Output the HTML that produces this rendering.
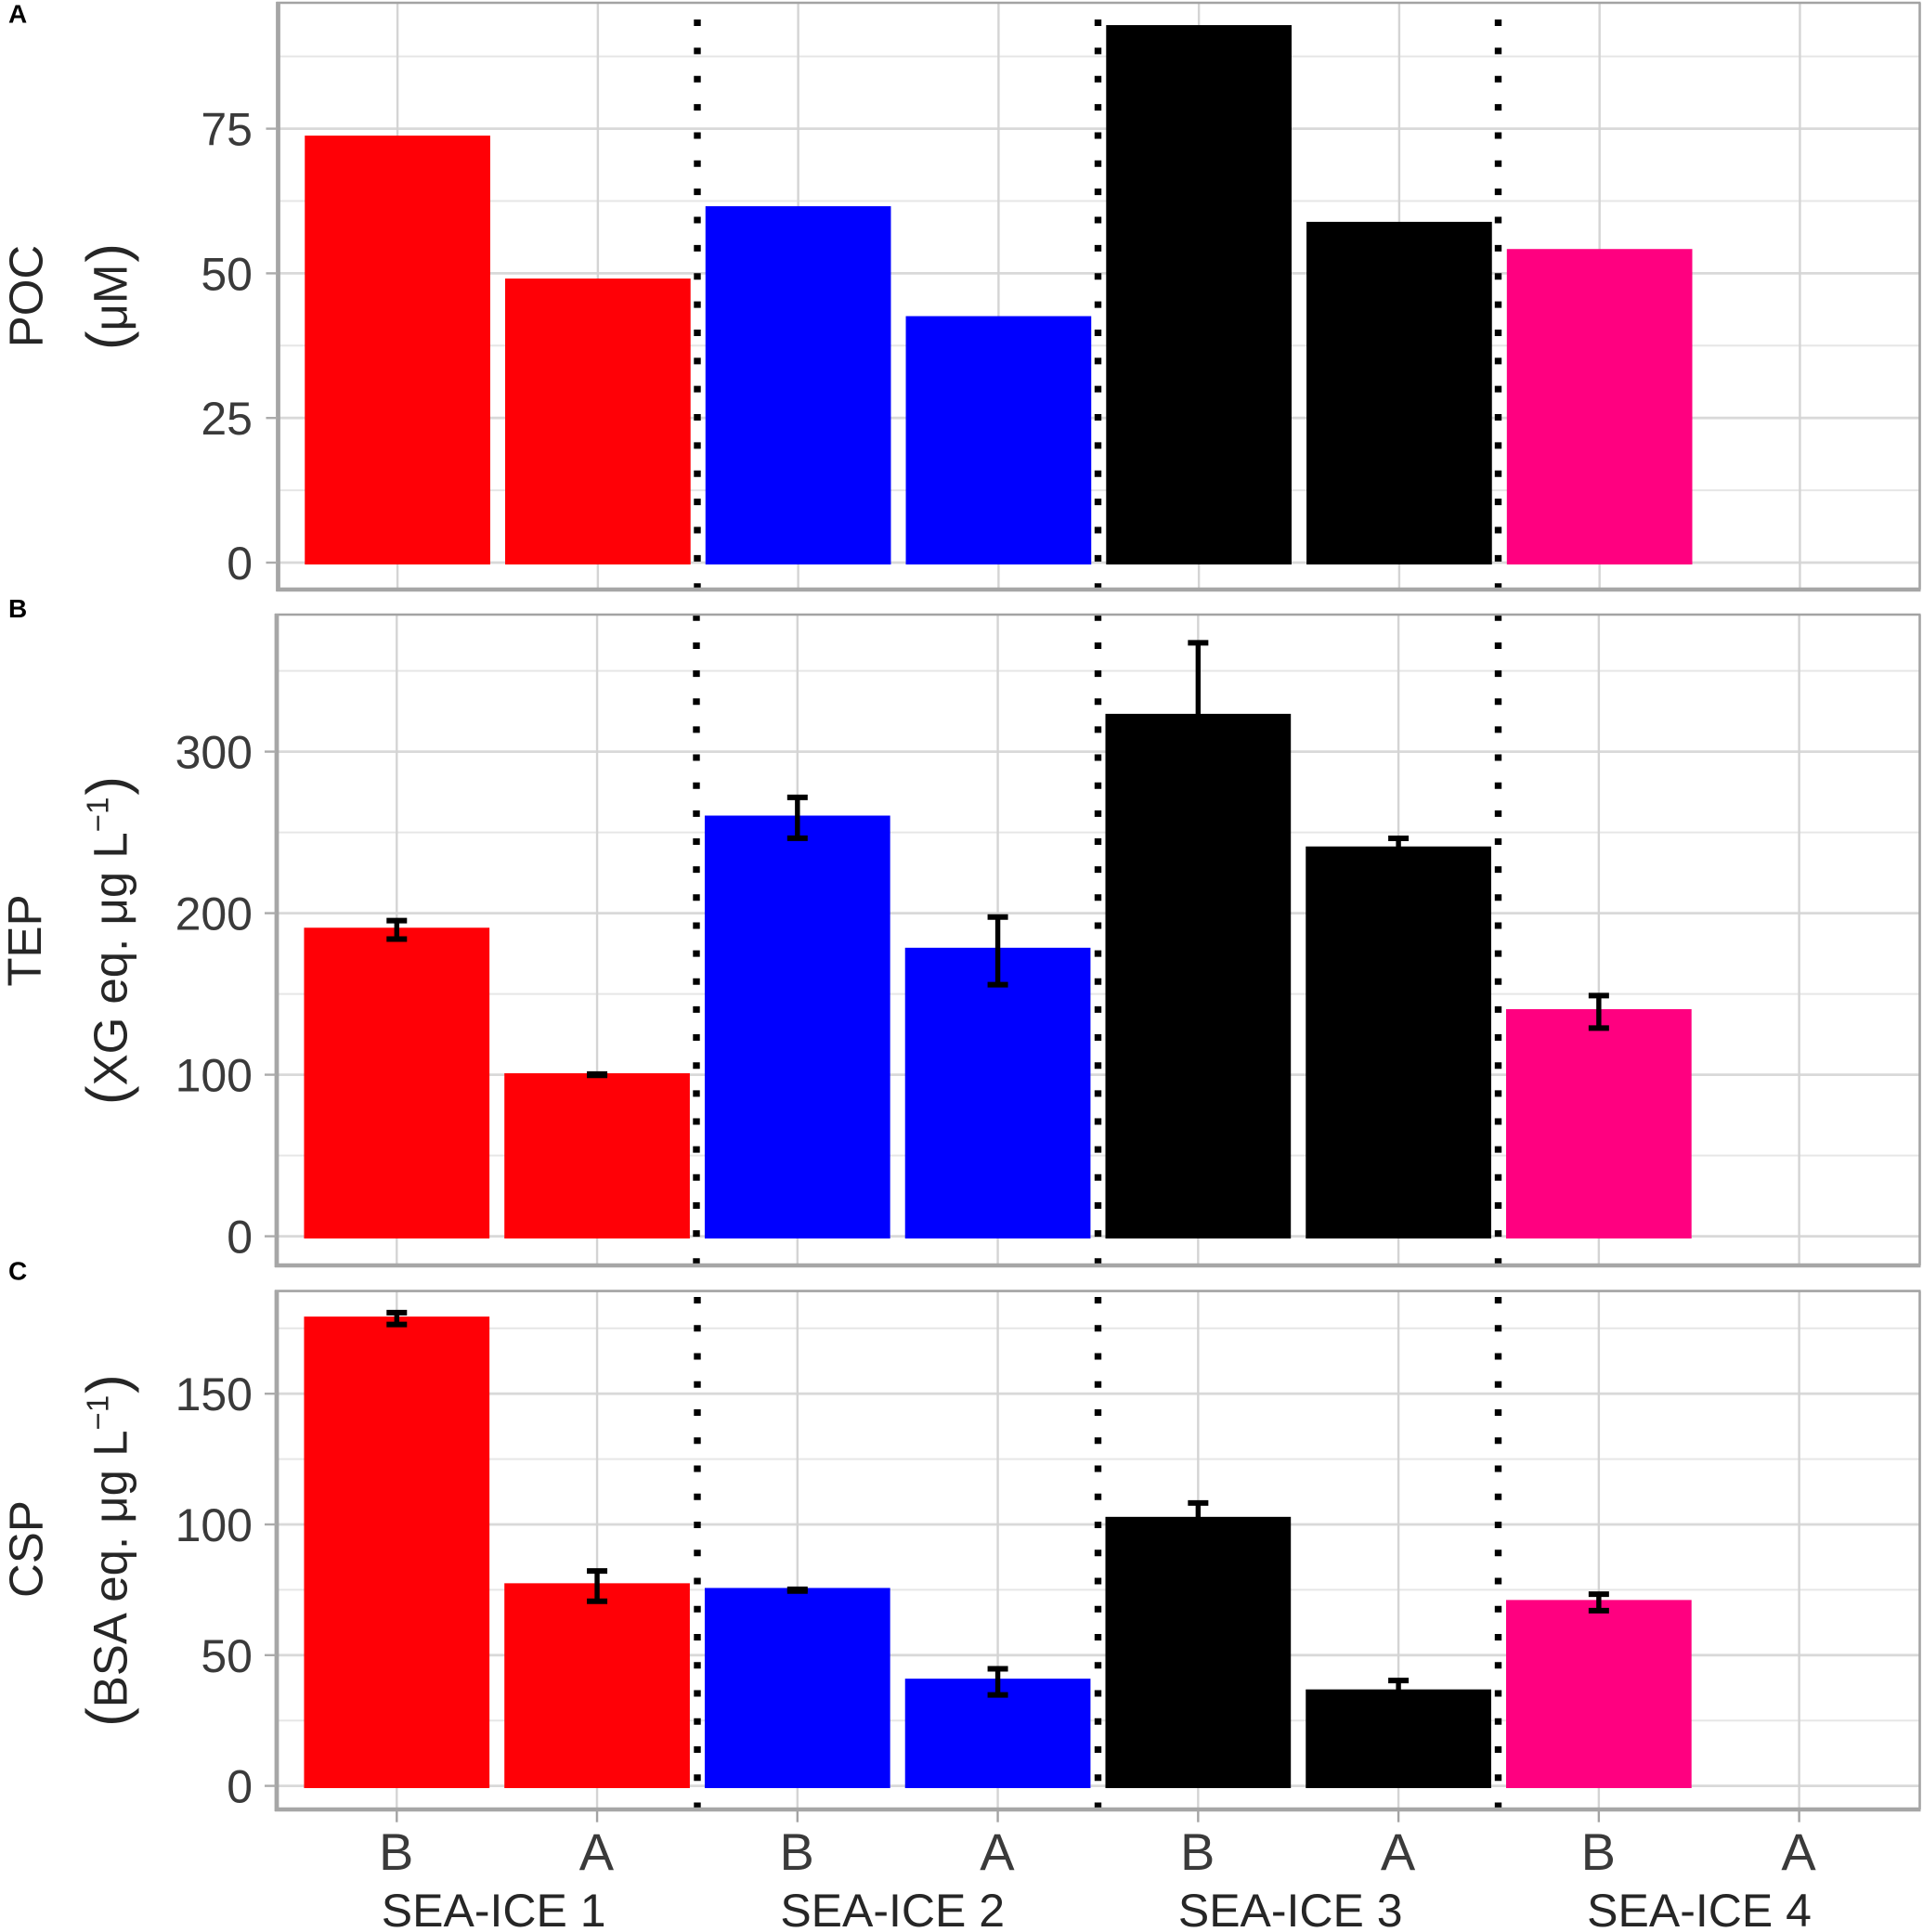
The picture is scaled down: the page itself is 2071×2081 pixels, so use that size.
<!DOCTYPE html>
<html lang="en">
<head>
<meta charset="utf-8">
<title>POC, TEP and CSP by sea-ice experiment</title>
<style>
html,body{margin:0;padding:0;background:#fff;width:2071px;height:2081px;overflow:hidden}
svg{display:block;font-family:"Liberation Sans","DejaVu Sans",sans-serif}
</style>
</head>
<body>
<svg id="chart" xmlns="http://www.w3.org/2000/svg" width="2071" height="2081" viewBox="0 0 2071 2081">
  <rect x="0" y="0" width="2071" height="2081" fill="#fff"/>
  <g id="panels"></g>

  <text x="9" y="24.5" font-size="28" font-weight="700" fill="#000">A</text>
  <text x="9" y="665" font-size="28" font-weight="700" fill="#000">B</text>
  <text x="9" y="1378.5" font-size="28" font-weight="700" fill="#000">C</text>

  <text transform="translate(45.5 319) rotate(-90)" text-anchor="middle" font-size="51" fill="#262626">POC</text>
  <text transform="translate(136.5 319.5) rotate(-90)" text-anchor="middle" font-size="51" fill="#262626"><tspan font-size="62">(</tspan>μM<tspan font-size="62" dx="2">)</tspan></text>

  <text transform="translate(44 1013) rotate(-90)" text-anchor="middle" font-size="51" fill="#262626">TEP</text>
  <text transform="translate(136.5 1013) rotate(-90)" text-anchor="middle" font-size="51" fill="#262626"><tspan font-size="62">(</tspan>XG eq. μg L<tspan font-size="33" dy="-20">−1</tspan><tspan font-size="62" dy="20" dx="2">)</tspan></text>

  <text transform="translate(45.5 1668.5) rotate(-90)" text-anchor="middle" font-size="51" fill="#262626">CSP</text>
  <text transform="translate(136.5 1670) rotate(-90)" text-anchor="middle" font-size="51" fill="#262626"><tspan font-size="62">(</tspan>BSA eq. μg L<tspan font-size="33" dy="-20">−1</tspan><tspan font-size="62" dy="20" dx="2">)</tspan></text>
</svg>

<script>
// ---- chart data ----
const categories = ['B', 'A', 'B', 'A', 'B', 'A', 'B', 'A'];
const groups = ['SEA-ICE 1', 'SEA-ICE 2', 'SEA-ICE 3', 'SEA-ICE 4'];

const pocValues = [73.8, 49.1, 61.6, 42.6, 92.9, 58.9, 54.2, null];
const pocTicks = [0, 25, 50, 75];
const pocMinorTicks = [12.5, 37.5, 62.5, 87.5];

const tepValues = [191, 100.9, 260.4, 178.6, 323.4, 241.3, 140.6, null];
const tepLow = [184, 99.6, 246.4, 155.7, 279.5, 236.3, 128.9, null];
const tepHigh = [195.4, 100.4, 271.7, 197.6, 367.4, 246.3, 149, null];
const tepTicks = [0, 100, 200, 300];
const tepMinorTicks = [50, 150, 250, 350];

const cspValues = [179.5, 77.5, 75.7, 41, 102.9, 36.9, 71.1, null];
const cspLow = [176.5, 70.6, 74.5, 34.8, 97.5, 33.5, 67, null];
const cspHigh = [181, 82.2, 75.2, 44.8, 108.2, 40.3, 73.3, null];
const cspTicks = [0, 50, 100, 150];
const cspMinorTicks = [25, 75, 125, 175];

const barColors = ['#ff0006', '#ff0006', '#0000ff', '#0000ff', '#000000', '#000000', '#ff0080', '#ff0080'];

// ---- layout ----
const SVGNS = 'http://www.w3.org/2000/svg';
const root = document.getElementById('panels');
const xFirst = 427.3;
const xStep = 215.76;
const barWidth = 199.7;
const capWidth = 22;
const groupLabelNudge = [-3.5, -5.5, -8.5, 0.3];

function xScale(i) { return xFirst + xStep * i; }
function linearScale(zeroPixel, pixelsPerUnit) {
  return function (v) { return zeroPixel - v * pixelsPerUnit; };
}
function mk(tag, attrs, parent) {
  const el = document.createElementNS(SVGNS, tag);
  Object.keys(attrs).forEach(function (k) { el.setAttribute(k, attrs[k]); });
  parent.appendChild(el);
  return el;
}

function drawPanel(p) {
  const y = linearScale(p.zero, p.perUnit);
  const x = function (i) { return xScale(i) + p.xShift; };
  const g = mk('g', {}, root);
  
  

  p.minor.forEach(function (v) {
    const line = mk('line', { x1: p.left, x2: p.right, y1: y(v), y2: y(v), stroke: '#e6e6e6', 'stroke-width': 2 }, g);
    
    
  });
  p.ticks.forEach(function (v) {
    const line = mk('line', { x1: p.left, x2: p.right, y1: y(v), y2: y(v), stroke: '#d9d9d9', 'stroke-width': 2.8 }, g);
    
    
  });
  categories.forEach(function (c, i) {
    const line = mk('line', { x1: x(i), x2: x(i), y1: p.top, y2: p.bottom, stroke: '#d4d4d4', 'stroke-width': 2.4 }, g);
    
    
  });

  // separators between the sea-ice experiments
  p.sepX.forEach(function (sx) {
    const line = mk('line', {
      x1: sx, x2: sx, y1: p.dotStart, y2: p.dotEnd,
      stroke: '#000', 'stroke-width': 7.4,
      'stroke-dasharray': '7 ' + (p.dotPitch - 7)
    }, g);
    
    
  });

  // bars sit on a common baseline just beneath the zero gridline
  p.values.forEach(function (v, i) {
    if (v === null) return;
    const top = y(v);
    const bar = mk('rect', {
      x: x(i) - barWidth / 2, y: top,
      width: barWidth, height: y(0) + p.baseOffset - top,
      fill: barColors[i]
    }, g);
    
    
  });

  if (p.low && p.high) {
    p.values.forEach(function (v, i) {
      if (v === null) return;
      const cx = x(i);
      const stem = mk('line', { x1: cx, x2: cx, y1: y(p.low[i]), y2: y(p.high[i]), stroke: '#000', 'stroke-width': 5.4 }, g);
      
      
      const capTop = mk('line', { x1: cx - capWidth / 2, x2: cx + capWidth / 2, y1: y(p.high[i]), y2: y(p.high[i]), stroke: '#000', 'stroke-width': 6 }, g);
      
      
      const capLow = mk('line', { x1: cx - capWidth / 2, x2: cx + capWidth / 2, y1: y(p.low[i]), y2: y(p.low[i]), stroke: '#000', 'stroke-width': 6 }, g);
      
      
    });
  }

  // panel border
  const borderTop = mk('line', { x1: p.left - 2, x2: p.right + 1, y1: p.top, y2: p.top, stroke: '#a3a3a3', 'stroke-width': 2.6 }, g);
  
  
  const borderRight = mk('line', { x1: p.right, x2: p.right, y1: p.top, y2: p.bottom, stroke: '#a3a3a3', 'stroke-width': 2.6 }, g);
  
  
  const axisLeft = mk('line', { x1: p.left, x2: p.left, y1: p.top - 1, y2: p.bottom + 2, stroke: '#a6a6a6', 'stroke-width': 4.8 }, g);
  
  
  const axisBottom = mk('line', { x1: p.left - 2, x2: p.right + 1, y1: p.bottom, y2: p.bottom, stroke: '#a6a6a6', 'stroke-width': 4.6 }, g);
  
  

  // y ticks and labels
  p.ticks.forEach(function (v) {
    const tick = mk('line', { x1: p.left - 13, x2: p.left - 1, y1: y(v), y2: y(v), stroke: '#ababab', 'stroke-width': 2.4 }, g);
    
    
    const label = mk('text', { x: 272, y: y(v) + 18, 'text-anchor': 'end', 'font-size': 50, fill: '#3a3a3a' }, g);
    label.textContent = String(v);
    
    
  });
}

drawPanel({
  key: 'poc', values: pocValues, ticks: pocTicks, minor: pocMinorTicks,
  zero: 606, perUnit: 6.232, baseOffset: 2, xShift: 0.8,
  left: 299.5, right: 2067.5, top: 3, bottom: 635,
  sepX: [751, 1182.5, 1613.5], dotStart: 21, dotEnd: 633, dotPitch: 30.36
});
drawPanel({
  key: 'tep', values: tepValues, low: tepLow, high: tepHigh, ticks: tepTicks, minor: tepMinorTicks,
  zero: 1331.6, perUnit: 1.74, baseOffset: 2.4, xShift: 0,
  left: 298, right: 2067.5, top: 662, bottom: 1363,
  sepX: [750, 1182.5, 1613.5], dotStart: 661.8, dotEnd: 1362, dotPitch: 30.15
});
drawPanel({
  key: 'csp', values: cspValues, low: cspLow, high: cspHigh, ticks: cspTicks, minor: cspMinorTicks,
  zero: 1923.6, perUnit: 2.816, baseOffset: 2.4, xShift: 0,
  left: 298, right: 2067.5, top: 1390.6, bottom: 1949,
  sepX: [751, 1182.5, 1613.5], dotStart: 1397, dotEnd: 1947, dotPitch: 30.25
});

// shared x axis under the bottom panel
categories.forEach(function (c, i) {
  const tick = mk('line', { x1: xScale(i), x2: xScale(i), y1: 1951, y2: 1962.7, stroke: '#a3a3a3', 'stroke-width': 2.4 }, root);
  
  
  const label = mk('text', { x: xScale(i) - 0.6, y: 2014, 'text-anchor': 'middle', 'font-size': 56, fill: '#3a3a3a' }, root);
  label.textContent = c;
  
  
});
groups.forEach(function (name, i) {
  const label = mk('text', { x: (xScale(i * 2) + xScale(i * 2 + 1)) / 2 + groupLabelNudge[i], y: 2075, 'text-anchor': 'middle', 'font-size': 50, fill: '#262626' }, root);
  label.textContent = name;
  
  
});
</script>
</body>
</html>
